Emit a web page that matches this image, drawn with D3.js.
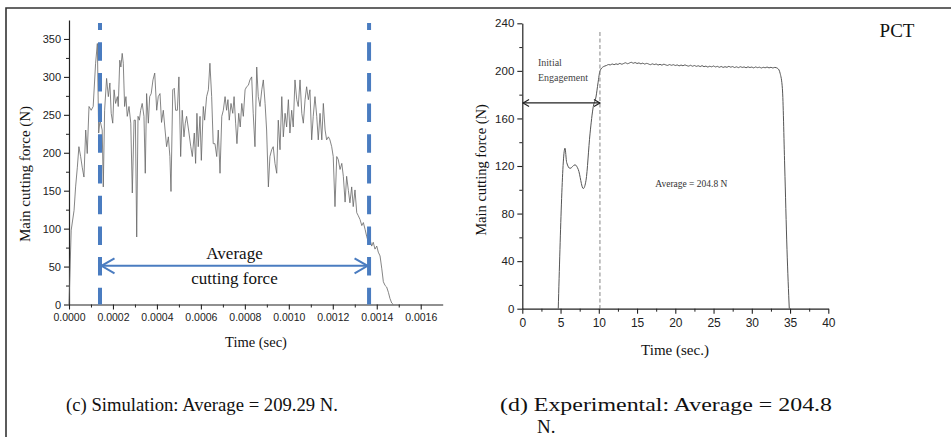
<!DOCTYPE html>
<html>
<head>
<meta charset="utf-8">
<script src="https://cdn.jsdelivr.net/npm/d3@7"></script>
<style>
  body { margin: 0; background: #fff; }
  svg { display: block; }
</style>
</head>
<body>
<svg id="fig" width="951" height="437"></svg>
<script>
// DATA
// (c) simulation - time in microseconds, force in N
var simTime = [0, 10, 23, 30, 38, 45, 53, 60, 68, 76, 83, 91, 101, 110, 121, 129, 135, 141, 151, 156,
    162, 171, 179, 186, 192, 199, 205, 212, 220, 224, 231, 236, 242, 247, 253, 259, 265, 273, 281, 288,
    296, 302, 308, 314, 320, 326, 333, 341, 347, 353, 361, 367, 374, 382, 390, 399, 406, 414, 421, 429,
    437, 444, 452, 459, 464, 472, 479, 485, 493, 500, 508, 515, 523, 529, 535, 544, 554, 561, 570, 576,
    582, 588, 596, 602, 611, 617, 626, 634, 641, 649, 656, 664, 672, 679, 687, 695, 702, 710, 717, 723,
    729, 737, 745, 751, 758, 764, 772, 779, 786, 793, 801, 808, 816, 823, 831, 838, 846, 854, 861, 869,
    877, 884, 892, 899, 907, 914, 922, 929, 937, 945, 952, 960, 968, 975, 983, 990, 998, 1005, 1013, 1020,
    1028, 1036, 1043, 1051, 1059, 1066, 1074, 1081, 1089, 1096, 1104, 1111, 1119, 1127, 1134, 1142, 1150, 1157, 1165, 1172,
    1180, 1187, 1195, 1202, 1210, 1218, 1225, 1233, 1241, 1248, 1256, 1263, 1271, 1278, 1286, 1293, 1301, 1309, 1316, 1324,
    1332, 1339, 1347, 1354, 1362, 1369, 1377, 1384, 1392, 1400, 1407, 1415, 1423, 1430, 1438, 1445, 1453, 1460, 1468, 1475];
var simForce = [0, 98, 124, 155, 181, 208, 195, 181, 168, 230, 199, 261, 256, 261, 318, 344, 226, 243, 230, 155,
    256, 298, 274, 292, 252, 239, 283, 265, 274, 261, 322, 313, 331, 318, 261, 274, 248, 261, 239, 147,
    243, 243, 89, 248, 243, 256, 265, 248, 173, 278, 239, 274, 278, 296, 305, 256, 274, 278, 240, 256,
    230, 208, 221, 195, 149, 283, 285, 256, 256, 300, 195, 256, 221, 239, 248, 230, 208, 195, 226, 186,
    252, 208, 248, 190, 261, 243, 274, 283, 318, 274, 212, 212, 195, 230, 173, 248, 256, 274, 256, 270,
    243, 265, 252, 274, 239, 212, 252, 234, 265, 248, 283, 287, 289, 296, 300, 252, 208, 313, 274, 261,
    283, 296, 265, 230, 155, 195, 204, 208, 186, 173, 243, 204, 274, 221, 252, 234, 270, 226, 256, 234,
    296, 270, 261, 296, 252, 239, 270, 287, 270, 283, 217, 248, 274, 248, 217, 252, 217, 265, 230, 217,
    221, 217, 208, 195, 129, 195, 191, 178, 186, 169, 135, 169, 150, 134, 155, 129, 151, 121, 117, 112,
    104, 108, 99, 90, 82, 86, 77, 82, 73, 77, 69, 64, 47, 30, 25, 23, 16, 8, 2, 0];
var simXTicks = [0, 0.0002, 0.0004, 0.0006, 0.0008, 0.0010, 0.0012, 0.0014, 0.0016];
var simYTicks = [0, 50, 100, 150, 200, 250, 300, 350];
var simWindow = [0.000141, 0.001365];   // average cutting force window (s)
var simArrowForce = 51;

// (d) experimental - time in s, force in N
var expTime = [4.7, 5.58, 5.8, 6.24, 6.89, 7.32, 7.97, 8.33, 8.85, 9.28, 9.63, 9.9, 10.16, 10.59,
    11.0, 11.25, 11.5, 11.75, 12.0, 12.25, 12.5, 12.75, 13.0, 13.25, 13.5, 13.75, 14.0, 14.25, 14.5, 14.75,
    15.0, 15.25, 15.5, 15.75, 16.0, 16.25, 16.5, 16.75, 17.0, 17.25, 17.5, 17.75, 18.0, 18.25, 18.5, 18.75,
    19.0, 19.25, 19.5, 19.75, 20.0, 20.25, 20.5, 20.75, 21.0, 21.25, 21.5, 21.75, 22.0, 22.25, 22.5, 22.75,
    23.0, 23.25, 23.5, 23.75, 24.0, 24.25, 24.5, 24.75, 25.0, 25.25, 25.5, 25.75, 26.0, 26.25, 26.5, 26.75,
    27.0, 27.25, 27.5, 27.75, 28.0, 28.25, 28.5, 28.75, 29.0, 29.25, 29.5, 29.75, 30.0, 30.25, 30.5, 30.75,
    31.0, 31.25, 31.5, 31.75, 32.0, 32.25, 32.5, 32.75, 33.0,
    33.4, 33.7, 34.0, 34.3, 34.6, 34.9];
var expForce = [0, 135, 123, 118, 121, 117, 101, 108, 147, 170, 178, 190, 200, 203.5,
    204.5, 205.3, 205.0, 205.8, 205.2, 205.9, 205.4, 206.3, 205.6, 206.2, 206.8, 206.0, 206.6, 207.2, 206.4, 207.0,
    206.2, 206.7, 205.9, 206.5, 205.7, 206.3, 205.8, 205.2, 205.9, 205.3, 205.8, 204.9, 205.5, 204.8, 205.6, 205.0,
    204.6, 205.3, 204.7, 205.2, 204.5, 205.0, 204.2, 204.9, 204.3, 205.0, 204.4, 204.0, 204.7, 203.9, 204.5, 203.8,
    204.3, 203.6, 204.4, 203.5, 204.0, 203.2, 203.9, 203.4, 204.1, 203.3, 203.8, 203.0, 203.7, 202.9, 203.5, 203.0,
    203.8, 203.1, 203.6, 202.8, 203.4, 202.7, 203.5, 202.9, 203.3, 202.6, 203.4, 202.8, 203.2, 202.5, 203.3, 202.7,
    203.1, 202.4, 203.0, 202.6, 203.2, 202.5, 203.0, 202.4, 202.9,
    202, 198, 185, 120, 50, 0];
var expXTicks = [0, 5, 10, 15, 20, 25, 30, 35, 40];
var expYTicks = [0, 40, 80, 120, 160, 200, 240];
var expEngageEnd = 10.15;
var expArrowForce = 173;

var blue = '#4a7cc0';
var serif = '"Liberation Serif", "Times New Roman", serif';
var svg = d3.select('#fig');

// FRAME
svg.append('path')
    .attr('d', 'M6,437 L6,8 L951,8')
    .attr('fill', 'none')
    .attr('stroke', '#333')
    .attr('stroke-width', 1.6);

// chevron helper (open arrow head)
function chevron(g, x, y, dir, len, half, color, w) {
    g.append('path')
        .attr('d', 'M' + (x + dir * len) + ',' + (y - half) + ' L' + x + ',' + y + ' L' + (x + dir * len) + ',' + (y + half))
        .attr('fill', 'none')
        .attr('stroke', color)
        .attr('stroke-width', w);
}

function styleAxis(g, size) {
    g.select('.domain').attr('stroke', '#222').attr('stroke-width', 1.2);
    g.selectAll('.tick line').attr('stroke', '#222').attr('stroke-width', 1.1);
    g.selectAll('.tick text').attr('fill', '#222')
        .style('font-family', '"Liberation Sans", Arial, sans-serif')
        .style('font-size', size + 'px');
}

function minorTicks(g) {
    g.select('.domain').remove();
    g.selectAll('line').attr('stroke', '#222');
}

//.............................................................................//
// (c) SIMULATION
var xSim = d3.scaleLinear().domain([0, 0.0017]).range([69, 442.7]);
var ySim = d3.scaleLinear().domain([0, 375]).range([304.5, 20]);
var gSim = svg.append('g');

gSim.append('g').attr('transform', 'translate(0,' + ySim(0) + ')')
    .call(d3.axisBottom(xSim).tickValues(d3.range(0.0001, 0.0017, 0.0002)).tickSize(3).tickFormat(''))
    .call(minorTicks);
gSim.append('g').attr('transform', 'translate(' + xSim(0) + ',0)')
    .call(d3.axisLeft(ySim).tickValues(d3.range(25, 375, 50)).tickSize(3).tickFormat(''))
    .call(minorTicks);

var xAxSim = gSim.append('g').attr('transform', 'translate(0,' + ySim(0) + ')')
    .call(d3.axisBottom(xSim).tickValues(simXTicks).tickSize(5).tickSizeOuter(0).tickPadding(4).tickFormat(d3.format('.4f')));
styleAxis(xAxSim, 10.5);
var yAxSim = gSim.append('g').attr('transform', 'translate(' + xSim(0) + ',0)')
    .call(d3.axisLeft(ySim).tickValues(simYTicks).tickSize(5).tickSizeOuter(0).tickPadding(3));
styleAxis(yAxSim, 11);

// force trace
var simPts = simTime.map(function(t, i) { return [t * 1e-6, simForce[i]]; });
gSim.append('path')
    .datum(simPts)
    .attr('fill', 'none')
    .attr('stroke', '#666')
    .attr('stroke-width', 0.8)
    .attr('d', d3.line().x(function(d) { return xSim(d[0]); }).y(function(d) { return ySim(d[1]); }));

// window lines
simWindow.forEach(function(t) {
    gSim.append('line')
        .attr('x1', xSim(t)).attr('x2', xSim(t))
        .attr('y1', 23).attr('y2', ySim(0))
        .attr('stroke', blue)
        .attr('stroke-width', 4)
        .attr('stroke-dasharray', '18.5,12.2')
        .attr('stroke-dashoffset', 11.5);
});

// average arrow
var ay = ySim(simArrowForce);
var ax0 = xSim(simWindow[0]) + 1.5, ax1 = xSim(simWindow[1]) - 1.5;
gSim.append('line')
    .attr('x1', ax0).attr('x2', ax1).attr('y1', ay).attr('y2', ay)
    .attr('stroke', blue).attr('stroke-width', 2);
chevron(gSim, ax0, ay, 1, 13, 7.5, blue, 2);
chevron(gSim, ax1, ay, -1, 13, 7.5, blue, 2);

var midX = (xSim(simWindow[0]) + xSim(simWindow[1])) / 2;
gSim.append('text').attr('x', midX).attr('y', 258.5).attr('text-anchor', 'middle')
    .style('font-family', serif).style('font-size', '17px').attr('fill', '#111').text('Average');
gSim.append('text').attr('x', midX).attr('y', 284).attr('text-anchor', 'middle')
    .style('font-family', serif).style('font-size', '17px').attr('fill', '#111').text('cutting force');

// axis titles
gSim.append('text').attr('x', 256).attr('y', 347).attr('text-anchor', 'middle')
    .style('font-family', serif).style('font-size', '14.5px').attr('fill', '#111').text('Time (sec)');
gSim.append('text').attr('transform', 'translate(30,174) rotate(-90)').attr('text-anchor', 'middle')
    .style('font-family', serif).style('font-size', '15px').attr('fill', '#111').text('Main cutting force (N)');

//.............................................................................//
// (d) EXPERIMENTAL
var xExp = d3.scaleLinear().domain([0, 40]).range([522.3, 828.3]);
var yExp = d3.scaleLinear().domain([0, 240]).range([308.7, 23.3]);
var gExp = svg.append('g');

gExp.append('g').attr('transform', 'translate(0,' + yExp(0) + ')')
    .call(d3.axisBottom(xExp).tickValues(d3.range(2.5, 40, 5)).tickSize(3).tickFormat(''))
    .call(minorTicks);
gExp.append('g').attr('transform', 'translate(' + xExp(0) + ',0)')
    .call(d3.axisLeft(yExp).tickValues(d3.range(20, 240, 40)).tickSize(3).tickFormat(''))
    .call(minorTicks);

var xAxExp = gExp.append('g').attr('transform', 'translate(0,' + yExp(0) + ')')
    .call(d3.axisBottom(xExp).tickValues(expXTicks).tickSize(5).tickSizeOuter(0).tickPadding(5));
styleAxis(xAxExp, 12);
var yAxExp = gExp.append('g').attr('transform', 'translate(' + xExp(0) + ',0)')
    .call(d3.axisLeft(yExp).tickValues(expYTicks).tickSize(5).tickSizeOuter(0).tickPadding(3));
styleAxis(yAxExp, 11.5);

var expPts = expTime.map(function(t, i) { return [t, expForce[i]]; });
gExp.append('path')
    .datum(expPts)
    .attr('fill', 'none')
    .attr('stroke', '#555')
    .attr('stroke-width', 1)
    .attr('d', d3.line().curve(d3.curveMonotoneX).x(function(d) { return xExp(d[0]); }).y(function(d) { return yExp(d[1]); }));

// engagement marker
gExp.append('line')
    .attr('x1', xExp(expEngageEnd)).attr('x2', xExp(expEngageEnd))
    .attr('y1', 32).attr('y2', yExp(0))
    .attr('stroke', '#777').attr('stroke-width', 0.9).attr('stroke-dasharray', '4,2.5');

var by = yExp(expArrowForce);
var bx0 = xExp(0.1), bx1 = xExp(expEngageEnd);
gExp.append('line').attr('x1', bx0).attr('x2', bx1).attr('y1', by).attr('y2', by)
    .attr('stroke', '#222').attr('stroke-width', 1.2);
chevron(gExp, bx0, by, 1, 6, 3.5, '#222', 1.2);
chevron(gExp, bx1, by, -1, 6, 3.5, '#222', 1.2);

gExp.append('text').attr('x', 538).attr('y', 65.5)
    .style('font-family', serif).style('font-size', '10px').attr('fill', '#444').text('Initial');
gExp.append('text').attr('x', 538).attr('y', 81)
    .style('font-family', serif).style('font-size', '10px').attr('fill', '#444').text('Engagement');
gExp.append('text').attr('x', xExp(22.1)).attr('y', 187).attr('text-anchor', 'middle')
    .style('font-family', serif).style('font-size', '9.5px').attr('fill', '#333').text('Average = 204.8 N');

gExp.append('text').attr('x', 675).attr('y', 355).attr('text-anchor', 'middle')
    .style('font-family', serif).style('font-size', '15px').attr('fill', '#111').text('Time (sec.)');
gExp.append('text').attr('transform', 'translate(486,170) rotate(-90)').attr('text-anchor', 'middle')
    .style('font-family', serif).style('font-size', '14.5px').attr('fill', '#111').text('Main cutting force (N)');

svg.append('text').attr('x', 897).attr('y', 37).attr('text-anchor', 'middle')
    .style('font-family', serif).style('font-size', '19px').attr('fill', '#111').text('PCT');

// CAPTIONS
svg.append('text').attr('x', 66).attr('y', 411)
    .attr('textLength', 272).attr('lengthAdjust', 'spacingAndGlyphs')
    .style('font-family', serif).style('font-size', '19px').attr('fill', '#111')
    .text('(c) Simulation: Average = 209.29 N.');
svg.append('text').attr('x', 500).attr('y', 411)
    .attr('textLength', 332).attr('lengthAdjust', 'spacingAndGlyphs')
    .style('font-family', serif).style('font-size', '19px').attr('fill', '#111')
    .text('(d) Experimental: Average = 204.8');
svg.append('text').attr('x', 537).attr('y', 432.5)
    .style('font-family', serif).style('font-size', '19px').attr('fill', '#111')
    .text('N.');
</script>
</body>
</html>
